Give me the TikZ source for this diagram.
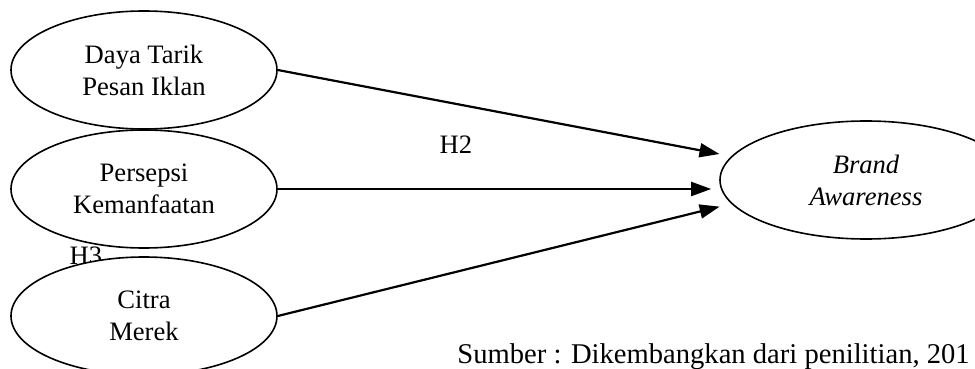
\documentclass[tikz,border=0pt]{standalone}
\usepackage{fontspec}
\setmainfont{Liberation Serif}
\usetikzlibrary{arrows.meta, positioning, shapes.geometric}

\begin{document}
\begin{tikzpicture}[
      x=0.5pt, y=-0.5pt,
      var/.style={ellipse, draw, line width=0.8pt, fill=white, inner sep=0pt,
                  minimum width=133pt, minimum height=59pt, align=center,
                  font=\fontsize{13.3}{16}\selectfont},
      lbl/.style={font=\fontsize{13.3}{16}\selectfont, inner sep=0pt},
      arr/.style={-{Triangle[length=10pt,width=7pt]}, line width=1.1pt}
    ]
      \useasboundingbox (0,0) rectangle (975,369);
      % hypothesis labels
      \node[lbl] (h2) at (456,145) {H2};
      \node[lbl] (h3) at (86,256) {H3};
      % constructs
      \node[var] (dtp) at (144,70) {Daya Tarik\\Pesan Iklan};
      \node[var] (pk) at (144,189) {Persepsi\\Kemanfaatan};
      \node[var] (cm) at (144,316) {Citra\\Merek};
      \node[var, minimum width=146pt] (ba) at (866,180) {\itshape Brand\\\itshape Awareness};
      \draw[arr, shorten >=6pt] (dtp.east) -- (ba.170);
      \draw[arr, shorten >=4pt] (pk.east) -- (pk.east -| ba.west);
      \draw[arr, shorten >=6pt] (cm.east) -- (ba.190);
      \node[lbl, font=\fontsize{14.3}{17}\selectfont, anchor=base west] (src) at (457,363) {Sumber : Dikembangkan dari penilitian, 201};
\end{tikzpicture}
\end{document}
